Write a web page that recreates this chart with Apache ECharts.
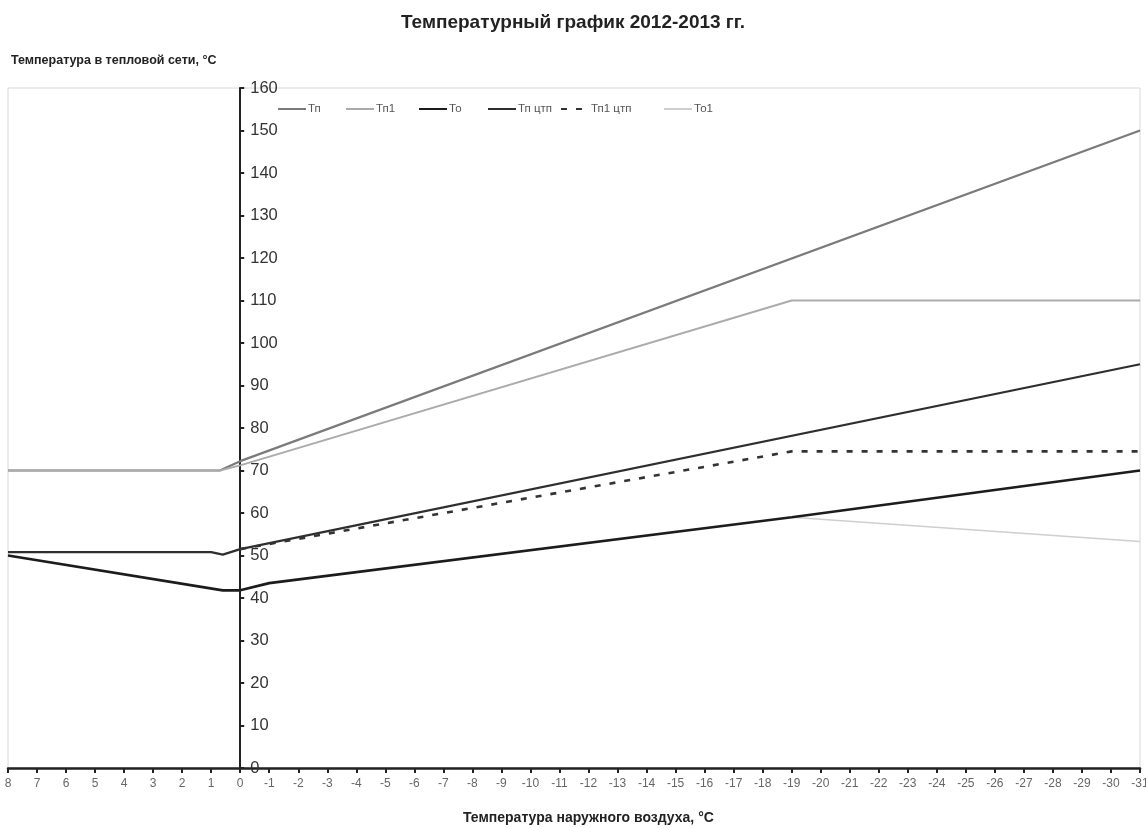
<!DOCTYPE html>
<html>
<head>
<meta charset="utf-8">
<script src="https://cdn.jsdelivr.net/npm/echarts@6/dist/echarts.min.js"></script>
<style>
  html, body { margin: 0; padding: 0; background: #fff; }
  #chart { width: 1146px; height: 828px; }
</style>
</head>
<body>
<div id="chart"></div>
<script>
// Axis ranges (outdoor air temperature, °C / network temperature, °C)
const xMin = -31, xMax = 8;
const yMin = 0, yMax = 160, yStep = 10;

const seriesNames = ['Тп', 'Тп1', 'То', 'Тп цтп', 'Тп1 цтп', 'То1'];

// [outdoor temperature, network temperature]
const tp     = [[8, 70], [0.7, 70], [0, 72.2], [-31, 150]];
const tp1    = [[8, 70], [0.7, 70], [0, 71.2], [-19, 110], [-31, 110]];
const to     = [[8, 50], [0.6, 41.8], [0, 41.8], [-1, 43.5], [-19, 59], [-31, 70]];
const tpCtp  = [[8, 50.8], [1, 50.8], [0.6, 50.2], [0, 51.5], [-31, 95]];
const tp1Ctp = [[0, 51.5], [-19, 74.5], [-31, 74.5]];
const to1    = [[-19, 59], [-31, 53.3]];

const seriesData = [tp, tp1, to, tpCtp, tp1Ctp, to1];
const styles = [
  { color: '#7a7a7a', width: 2.2, type: 'solid' },
  { color: '#ababab', width: 2, type: 'solid' },
  { color: '#1c1c1c', width: 2.6, type: 'solid' },
  { color: '#2e2e2e', width: 2.2, type: 'solid' },
  { color: '#333333', width: 2.6, type: [6, 9] },
  { color: '#cfcfcf', width: 1.6, type: 'solid' }
];
const legendLefts = [277, 345, 418, 487, 560, 663];

const chart = echarts.init(document.getElementById('chart'));
const font = 'Liberation Sans, Arial, sans-serif';
const gridLeft = 8;

chart.setOption({
  backgroundColor: '#fff',
  animation: false,
  title: [
    { text: 'Температурный график 2012-2013 гг.', left: 'center', top: 8,
      textStyle: { fontFamily: font, fontSize: 19, fontWeight: 'bold', color: '#222' } },
    { text: 'Температура в тепловой сети, °C', left: 6, top: 49,
      textStyle: { fontFamily: font, fontSize: 12.5, fontWeight: 'bold', color: '#222' } },
    { text: 'Температура наружного воздуха, °C', left: 458, top: 806,
      textStyle: { fontFamily: font, fontSize: 14, fontWeight: 'bold', color: '#222' } }
  ],
  legend: seriesNames.map((name, i) => ({
    left: legendLefts[i], top: 103, padding: 0,
    itemWidth: 28, itemHeight: 12,
    data: [name],
    itemStyle: { opacity: 0 },
    textStyle: { fontFamily: font, fontSize: 11.5, color: '#555', padding: [0, 0, 0, -3] }
  })),
  grid: {
    left: gridLeft, right: 6, top: 88, bottom: 60,
    outerBoundsMode: 'none',
    containLabel: false,
    show: true, borderColor: '#d8d8d8', borderWidth: 1
  },
  xAxis: {
    type: 'value', min: xMin, max: xMax, interval: 1, inverse: true,
    axisLine: { onZero: true, lineStyle: { color: '#222', width: 2.5 } },
    axisTick: { show: true, length: 5, lineStyle: { color: '#222', width: 2 } },
    axisLabel: { fontFamily: font, fontSize: 12, color: '#666', margin: 10 },
    splitLine: { show: false }
  },
  yAxis: {
    type: 'value', min: yMin, max: yMax, interval: yStep, position: 'left',
    offset: 0,
    axisLine: { show: true, onZero: false, lineStyle: { color: '#222', width: 2 } },
    axisTick: { show: true, inside: true, length: 4, lineStyle: { color: '#222', width: 2 } },
    axisLabel: { inside: true, fontFamily: font, fontSize: 16.5, color: '#333', margin: 10 },
    splitLine: { show: false }
  },
  series: seriesNames.map((name, i) => ({
    name: name,
    type: 'line',
    data: seriesData[i],
    symbol: 'none',
    showSymbol: false,
    z: i === 5 ? 1 : 2,
    lineStyle: { color: styles[i].color, width: styles[i].width, type: styles[i].type },
    itemStyle: { color: styles[i].color }
  }))
});

// Move the y axis so that it crosses the x axis at 0 °C (position from the x scale)
const zeroPx = chart.convertToPixel({ xAxisIndex: 0 }, 0);
chart.setOption({ yAxis: { offset: -(zeroPx - gridLeft) } });
</script>
</body>
</html>
